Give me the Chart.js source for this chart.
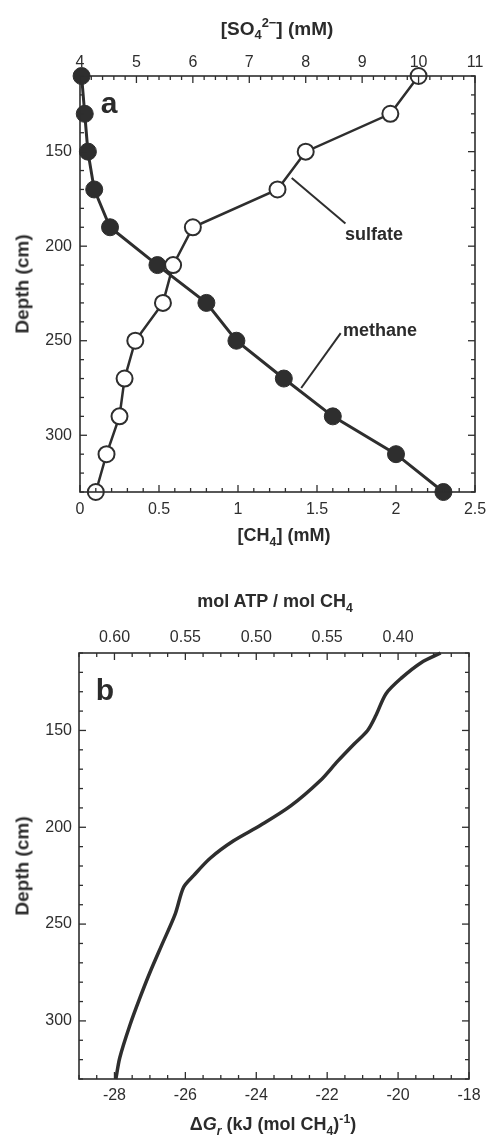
<!DOCTYPE html>
<html>
<head>
<meta charset="utf-8">
<script src="https://cdn.jsdelivr.net/npm/chart.js@4.4.1/dist/chart.umd.min.js"></script>
<style>
    html, body { margin: 0; padding: 0; background: #fff; }
    #page { position: relative; width: 489px; height: 1136px; overflow: hidden;
            font-family: 'Liberation Sans', Arial, sans-serif; color: #2b2b2b; }
    .panel { position: absolute; left: 0; }
    #wrapA { top: 0; }
    #wrapB { top: 560px; }
    .lbl { position: absolute; font-weight: bold; white-space: nowrap; line-height: 1; font-size: 18px; }
    .mid { transform: translate(-50%, -50%); }
    .left { transform: translateY(-50%); }
    .rot { transform: translate(-50%, -50%) rotate(-90deg); font-size: 19px; }
    .big { font-size: 30px; }
    sub, sup { font-size: 68%; line-height: 0; }
</style>
</head>
<body>
<div id="page">
    <div class="panel" id="wrapA"><canvas id="chartA" width="489" height="560"></canvas></div>
    <div class="panel" id="wrapB"><canvas id="chartB" width="489" height="576"></canvas></div>

    <!-- panel a texts -->
    <div class="lbl mid" style="left:277px; top:28px; font-size:19px;">[SO<sub>4</sub><sup>2−</sup>] (mM)</div>
    <div class="lbl mid" style="left:284px; top:535px;">[CH<sub>4</sub>] (mM)</div>
    <div class="lbl rot" style="left:22px; top:284px;">Depth (cm)</div>
    <div class="lbl mid big" style="left:109px; top:103px;">a</div>
    <div class="lbl left" style="left:345px; top:234px;">sulfate</div>
    <div class="lbl left" style="left:343px; top:330px;">methane</div>

    <!-- panel b texts -->
    <div class="lbl mid" style="left:275px; top:601px;">mol ATP / mol CH<sub>4</sub></div>
    <div class="lbl rot" style="left:22px; top:866px;">Depth (cm)</div>
    <div class="lbl mid big" style="left:105px; top:690px;">b</div>
    <div class="lbl mid" style="left:273px; top:1124px;">Δ<i>G<sub>r</sub></i> (kJ (mol CH<sub>4</sub>)<sup>-1</sup>)</div>
</div>

<script>
// --- Panel a: pore water profiles ---
const depthA = [110, 130, 150, 170, 190, 210, 230, 250, 270, 290, 310, 330];
const methane = [0.01, 0.03, 0.05, 0.09, 0.19, 0.49, 0.80, 0.99, 1.29, 1.60, 2.00, 2.30];
const sulfate = [10.0, 9.5, 8.0, 7.5, 6.0, 5.65, 5.47, 4.98, 4.79, 4.70, 4.47, 4.28];
const ch4Ticks = [0, 0.5, 1, 1.5, 2, 2.5];
const so4Ticks = [4, 5, 6, 7, 8, 9, 10, 11];
const depthTicks = [150, 200, 250, 300];

// --- Panel b: free energy of AOM ---
const depthB = [110, 115, 123, 131, 142, 150, 157, 166, 176, 189, 199, 207, 216, 225, 231, 245, 261, 275, 288, 302, 319, 330];
const dG = [-18.8, -19.35, -19.91, -20.34, -20.62, -20.86, -21.24, -21.71, -22.2, -23.03, -23.88, -24.64, -25.3, -25.77, -26.05, -26.29, -26.67, -27.0, -27.28, -27.56, -27.85, -27.96];
const dgTicks = [-28, -26, -24, -22, -20, -18];
const atpTicks = [0.60, 0.55, 0.50, 0.45, 0.40];
const atpLabels = ['0.60', '0.55', '0.50', '0.55', '0.40'];

const INK = '#2e2e2e';
const tickFont = { family: "'Liberation Sans', Arial, sans-serif", size: 16 };

function stepTicks(min, max, step) {
    const out = [];
    const n = Math.round((max - min) / step);
    for (let i = 0; i <= n; i++) out.push({ value: +(min + i * step).toFixed(6) });
    return out;
}

function isMajor(v, list) {
    return list.some(t => Math.abs(t - v) < 1e-6);
}

function majorLabel(list) {
    return v => isMajor(v, list) ? String(+(+v).toFixed(4)) : '';
}

// frame + inward tick marks
const frameTicks = {
    id: 'frameTicks',
    afterDatasetsDraw(chart, args, opts) {
        const { ctx, chartArea: a } = chart;
        ctx.save();
        ctx.strokeStyle = INK;
        ctx.lineWidth = 1.6;
        ctx.strokeRect(a.left, a.top, a.right - a.left, a.bottom - a.top);
        ctx.lineWidth = 1.3;
        (opts.marks || []).forEach(m => {
            const s = chart.scales[m.scale];
            s.ticks.forEach(t => {
                const len = isMajor(t.value, m.major) ? 7 : 4;
                const p = s.getPixelForValue(t.value);
                ctx.beginPath();
                if (m.side === 'bottom') { ctx.moveTo(p, a.bottom); ctx.lineTo(p, a.bottom - len); }
                if (m.side === 'top') { ctx.moveTo(p, a.top); ctx.lineTo(p, a.top + len); }
                if (m.side === 'left') { ctx.moveTo(a.left, p); ctx.lineTo(a.left + len, p); }
                if (m.side === 'right') { ctx.moveTo(a.right, p); ctx.lineTo(a.right - len, p); }
                ctx.stroke();
            });
        });
        ctx.restore();
    }
};

// label leader lines, given in data units
const leaders = {
    id: 'leaders',
    afterDatasetsDraw(chart, args, opts) {
        const { ctx, scales } = chart;
        ctx.save();
        ctx.strokeStyle = INK;
        ctx.lineWidth = 2;
        (opts.lines || []).forEach(l => {
            ctx.beginPath();
            ctx.moveTo(scales.x.getPixelForValue(l[0]), scales.y.getPixelForValue(l[1]));
            ctx.lineTo(scales.x.getPixelForValue(l[2]), scales.y.getPixelForValue(l[3]));
            ctx.stroke();
        });
        ctx.restore();
    }
};

function depthScale(width, pad) {
    return {
        type: 'linear', position: 'left', min: 110, max: 330, reverse: true,
        grid: { display: false, drawTicks: false }, border: { display: false },
        afterBuildTicks: s => { s.ticks = stepTicks(110, 330, 10); },
        ticks: { autoSkip: false, padding: pad, font: tickFont, color: INK, callback: majorLabel(depthTicks) },
        afterFit: s => { s.width = width; s.paddingTop = 0; s.paddingBottom = 0; }
    };
}

function hScale(pos, min, max, step, height, pad, callback, reverse) {
    return {
        type: 'linear', position: pos, min: min, max: max, reverse: !!reverse,
        grid: { display: false, drawTicks: false }, border: { display: false },
        afterBuildTicks: s => { s.ticks = stepTicks(min, max, step); },
        ticks: { autoSkip: false, maxRotation: 0, padding: pad, font: tickFont, color: INK, callback: callback },
        afterFit: s => { s.height = height; s.paddingLeft = 0; s.paddingRight = 0; }
    };
}

new Chart(document.getElementById('chartA'), {
    type: 'scatter',
    data: {
        datasets: [{
            label: 'sulfate',
            data: depthA.map((d, i) => ({ x: sulfate[i], y: d })),
            xAxisID: 'x2', yAxisID: 'y',
            showLine: true, borderColor: INK, borderWidth: 2.5,
            pointRadius: 8, pointBackgroundColor: '#fff', pointBorderColor: INK, pointBorderWidth: 2,
            clip: false
        }, {
            label: 'methane',
            data: depthA.map((d, i) => ({ x: methane[i], y: d })),
            xAxisID: 'x', yAxisID: 'y',
            showLine: true, borderColor: INK, borderWidth: 3,
            pointRadius: 8.5, pointBackgroundColor: INK, pointBorderColor: INK, pointBorderWidth: 1,
            clip: false
        }]
    },
    options: {
        responsive: false, animation: false, events: [],
        layout: { padding: { left: 0, right: 14, top: 0, bottom: 0 } },
        plugins: {
            legend: { display: false }, tooltip: { enabled: false },
            frameTicks: { marks: [
                { scale: 'x', side: 'bottom', major: ch4Ticks },
                { scale: 'x2', side: 'top', major: so4Ticks },
                { scale: 'y', side: 'left', major: depthTicks },
                { scale: 'y', side: 'right', major: depthTicks }
            ] },
            leaders: { lines: [[1.34, 164, 1.68, 188], [1.40, 275, 1.65, 246]] }
        },
        scales: {
            x: hScale('bottom', 0, 2.5, 0.1, 68, 8, majorLabel(ch4Ticks)),
            x2: hScale('top', 4, 11, 0.2, 76, 4, majorLabel(so4Ticks)),
            y: depthScale(80, 8)
        }
    },
    plugins: [frameTicks, leaders]
});

new Chart(document.getElementById('chartB'), {
    type: 'scatter',
    data: {
        datasets: [{
            label: 'dG',
            data: depthB.map((d, i) => ({ x: dG[i], y: d })),
            xAxisID: 'x', yAxisID: 'y',
            showLine: true, borderColor: INK, borderWidth: 3.5, tension: 0.3,
            pointRadius: 0, clip: false
        }]
    },
    options: {
        responsive: false, animation: false, events: [],
        layout: { padding: { left: 0, right: 20, top: 0, bottom: 0 } },
        plugins: {
            legend: { display: false }, tooltip: { enabled: false },
            frameTicks: { marks: [
                { scale: 'x', side: 'bottom', major: dgTicks },
                { scale: 'x2', side: 'top', major: atpTicks },
                { scale: 'y', side: 'left', major: depthTicks },
                { scale: 'y', side: 'right', major: depthTicks }
            ] }
        },
        scales: {
            x: hScale('bottom', -29, -18, 0.5, 57, 7, majorLabel(dgTicks)),
            x2: hScale('top', 0.35, 0.625, 0.0125, 93, 6, v => {
                const i = atpTicks.findIndex(t => Math.abs(t - v) < 1e-6);
                return i >= 0 ? atpLabels[i] : '';
            }, true),
            y: depthScale(79, 7)
        }
    },
    plugins: [frameTicks]
});
</script>
</body>
</html>
